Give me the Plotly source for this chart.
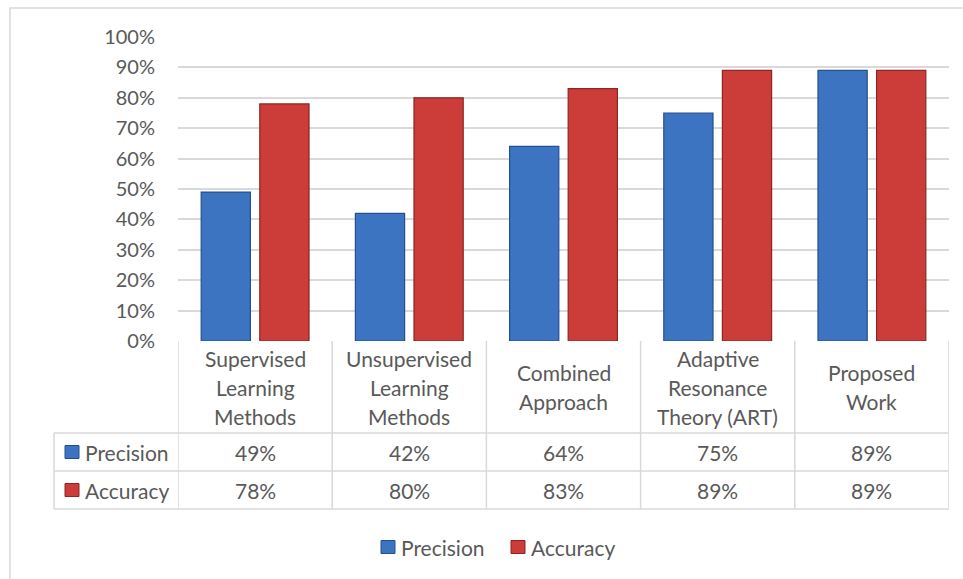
import plotly.graph_objects as go

# ---- data ----
categories = [
    "Supervised<br>Learning<br>Methods",
    "Unsupervised<br>Learning<br>Methods",
    "Combined<br>Approach",
    "Adaptive<br>Resonance<br>Theory (ART)",
    "Proposed<br>Work",
]
precision = [0.49, 0.42, 0.64, 0.75, 0.89]
accuracy = [0.78, 0.80, 0.83, 0.89, 0.89]
series_names = ["Precision", "Accuracy"]
y_ticks = [i / 10 for i in range(11)]
y_tick_labels = [f"{i * 10}%" for i in range(11)]

# ---- style ----
W, H = 963, 579
M_L, M_R, M_T, M_B = 178, 14, 37, 238
PLOT_W = W - M_L - M_R
PLOT_H = H - M_T - M_B
FONT = "Lato"
TXT = "#595959"
GRID = "#d9d9d9"
BLUE, BLUE_EDGE = "#3c74c2", "#24508f"
RED, RED_EDGE = "#cc3d3a", "#8a2624"
TABLE_SIZE = 21
LINE_STEP = 29  # px between header text lines


def py(ypx):
    """Pixel row -> paper y."""
    return (H - M_B - ypx) / PLOT_H


def px(xpx):
    """Pixel column -> paper x."""
    return (xpx - M_L) / PLOT_W


fig = go.Figure()
fig.add_trace(go.Bar(
    x=list(range(len(categories))), y=precision, name=series_names[0],
    marker=dict(color=BLUE, line=dict(color=BLUE_EDGE, width=1.2)),
))
fig.add_trace(go.Bar(
    x=list(range(len(categories))), y=accuracy, name=series_names[1],
    marker=dict(color=RED, line=dict(color=RED_EDGE, width=1.2)),
))

shapes = []
annotations = []

# outer chart frame
shapes.append(dict(type="rect", xref="paper", yref="paper",
                   x0=px(10), x1=px(975), y0=py(8), y1=py(595),
                   line=dict(color=GRID, width=1.5), layer="below"))

# data table rows (pixel rows)
HEAD_TOP, HEAD_BOT, ROW1_BOT, ROW2_BOT = 341, 433, 471, 509
TABLE_LEFT = 54

for ypix in (HEAD_BOT, ROW1_BOT, ROW2_BOT):
    shapes.append(dict(type="line", xref="paper", yref="paper",
                       x0=px(TABLE_LEFT), x1=1, y0=py(ypix), y1=py(ypix),
                       line=dict(color=GRID, width=1.5)))
n = len(categories)
for k in range(n + 1):
    shapes.append(dict(type="line", xref="x", yref="paper",
                       x0=k - 0.5, x1=k - 0.5, y0=py(HEAD_TOP), y1=py(ROW2_BOT),
                       line=dict(color=GRID, width=1.5)))
shapes.append(dict(type="line", xref="paper", yref="paper",
                   x0=px(TABLE_LEFT), x1=px(TABLE_LEFT), y0=py(HEAD_BOT), y1=py(ROW2_BOT),
                   line=dict(color=GRID, width=1.5)))

# category headers, one annotation per text line
head_mid = (HEAD_TOP + HEAD_BOT) / 2
for i, c in enumerate(categories):
    lines = c.split("<br>")
    first = head_mid - LINE_STEP * (len(lines) - 1) / 2
    for j, line in enumerate(lines):
        annotations.append(dict(xref="x", yref="paper", x=i, y=py(first + j * LINE_STEP),
                                text=line, showarrow=False, xanchor="center", yanchor="middle",
                                font=dict(family=FONT, size=TABLE_SIZE, color=TXT)))


def key(x0, ymid, col, edge, label):
    shapes.append(dict(type="rect", xref="paper", yref="paper",
                       x0=px(x0), x1=px(x0 + 14), y0=py(ymid - 6.5), y1=py(ymid + 6.5),
                       fillcolor=col, line=dict(color=edge, width=1)))
    annotations.append(dict(xref="paper", yref="paper", x=px(x0 + 18), y=py(ymid),
                            text=label, showarrow=False, xanchor="left", yanchor="middle",
                            font=dict(family=FONT, size=TABLE_SIZE, color=TXT)))


# value rows with legend keys
rows = [(series_names[0], precision, BLUE, BLUE_EDGE, HEAD_BOT, ROW1_BOT),
        (series_names[1], accuracy, RED, RED_EDGE, ROW1_BOT, ROW2_BOT)]
for name, vals, col, edge, top, bot in rows:
    mid = (top + bot) / 2
    key(65, mid, col, edge, name)
    for i, v in enumerate(vals):
        annotations.append(dict(xref="x", yref="paper", x=i, y=py(mid),
                                text=f"{round(v * 100)}%", showarrow=False,
                                xanchor="center", yanchor="middle",
                                font=dict(family=FONT, size=TABLE_SIZE, color=TXT)))

# chart legend below the table
key(381, 547, BLUE, BLUE_EDGE, series_names[0])
key(511, 547, RED, RED_EDGE, series_names[1])

fig.update_layout(
    width=W, height=H,
    margin=dict(l=M_L, r=M_R, t=M_T, b=M_B),
    paper_bgcolor="white", plot_bgcolor="white",
    barmode="group", bargap=0.24, bargroupgap=0.16,
    font=dict(family=FONT, size=20, color=TXT),
    xaxis=dict(range=[-0.5, n - 0.5], showticklabels=False, showgrid=False,
               zeroline=False, showline=False, ticks=""),
    yaxis=dict(range=[0, 1], tickvals=y_ticks, ticktext=y_tick_labels,
               showgrid=True, gridcolor=GRID, gridwidth=1.5, zeroline=False,
               showline=False, ticks="", ticklabelstandoff=22,
               tickfont=dict(family=FONT, size=20, color=TXT)),
    showlegend=False,
    shapes=shapes,
    annotations=annotations,
)

fig.write_html("out.html")
